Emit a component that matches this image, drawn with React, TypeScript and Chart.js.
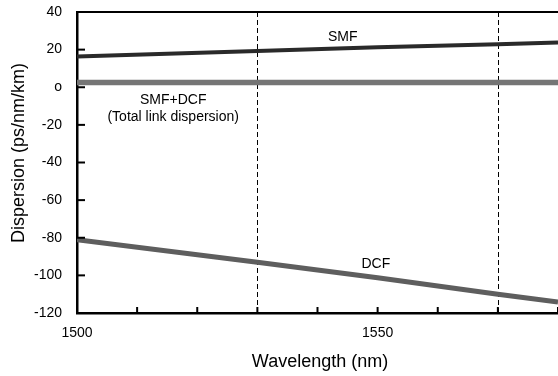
import React, { useEffect, useRef } from "react";
import { Chart, registerables } from "chart.js";

Chart.register(...registerables);

// ---- data ----
const wavelengths = [1500, 1530, 1550, 1570, 1580];
const smfDispersion = [16.3, 19.3, 21.2, 22.9, 23.8];
const totalDispersion = [2.5, 2.5, 2.5, 2.5, 2.5];
const dcfDispersion = [-81, -93, -101.3, -110, -114.2];

const xLabeledTicks = [1500, 1550];
const markerWavelengths = [1530, 1570];
const yTickValues = [40, 20, 0, -20, -40, -60, -80, -100, -120];
const yTickLabels = ["40", "20", "o", "-20", "-40", "-60", "-80", "-100", "-120"];

const xTitle = "Wavelength (nm)";
const yTitle = "Dispersion (ps/nm/km)";

const labelTexts = ["SMF", "SMF+DCF", "(Total link dispersion)", "DCF"];
const labelAnchors = [
  [1544.2, 26.7],
  [1516, -6.8],
  [1516, -15.8],
  [1549.7, -93.9],
];

const FONT = "'Liberation Sans', Arial, Helvetica, sans-serif";

const overlayPlugin = {
  id: "overlay",
  beforeDatasetsDraw(chart: any) {
    const { ctx, chartArea, scales } = chart;
    ctx.save();
    ctx.strokeStyle = "#000";
    ctx.lineWidth = 1;
    ctx.setLineDash([5, 3]);
    markerWavelengths.forEach((w) => {
      const x = Math.round(scales.x.getPixelForValue(w)) + 0.5;
      ctx.beginPath();
      ctx.moveTo(x, chartArea.top);
      ctx.lineTo(x, chartArea.bottom);
      ctx.stroke();
    });
    ctx.restore();
  },
  afterDatasetsDraw(chart: any) {
    const { ctx, chartArea, scales } = chart;
    ctx.save();
    // top frame line
    ctx.strokeStyle = "#000";
    ctx.lineWidth = 2;
    ctx.beginPath();
    ctx.moveTo(chartArea.left, chartArea.top);
    ctx.lineTo(chartArea.right, chartArea.top);
    ctx.stroke();
    // inward tick marks, y
    scales.y.ticks.forEach((t: any) => {
      const y = scales.y.getPixelForValue(t.value);
      ctx.beginPath();
      ctx.moveTo(chartArea.left, y);
      ctx.lineTo(chartArea.left + 8, y);
      ctx.stroke();
    });
    // inward tick marks, x
    scales.x.ticks.forEach((t: any) => {
      const x = scales.x.getPixelForValue(t.value);
      ctx.beginPath();
      ctx.moveTo(x, chartArea.bottom);
      ctx.lineTo(x, chartArea.bottom - 6);
      ctx.stroke();
    });
    // annotations
    ctx.fillStyle = "#000";
    ctx.font = `14px ${FONT}`;
    ctx.textAlign = "center";
    ctx.textBaseline = "middle";
    labelTexts.forEach((txt, i) => {
      const [wx, wy] = labelAnchors[i];
      ctx.fillText(txt, scales.x.getPixelForValue(wx), scales.y.getPixelForValue(wy));
    });
    // axis titles
    ctx.font = `18px ${FONT}`;
    ctx.fillText(xTitle, 320, 362);
    ctx.translate(19, 153);
    ctx.rotate(-Math.PI / 2);
    ctx.fillText(yTitle, 0, 0);
    ctx.restore();
  },
};

export default function App() {
  const ref = useRef<HTMLCanvasElement | null>(null);

  useEffect(() => {
    document.body.style.margin = "0";
    const canvas = ref.current;
    if (!canvas) return;
    const toPoints = (vals: number[]) => wavelengths.map((w, i) => ({ x: w, y: vals[i] }));
    const chart = new Chart(canvas, {
      type: "line",
      data: {
        datasets: [
          {
            label: "SMF+DCF",
            data: toPoints(totalDispersion),
            borderColor: "#757575",
            borderWidth: 5.5,
            pointRadius: 0,
            tension: 0,
          },
          {
            label: "SMF",
            data: toPoints(smfDispersion),
            borderColor: "#2a2a2a",
            borderWidth: 4,
            pointRadius: 0,
            tension: 0,
          },
          {
            label: "DCF",
            data: toPoints(dcfDispersion),
            borderColor: "#5e5e5e",
            borderWidth: 5,
            pointRadius: 0,
            tension: 0,
          },
        ],
      },
      options: {
        responsive: false,
        animation: false,
        devicePixelRatio: 1,
        layout: { padding: { top: 12, right: 0, left: 0, bottom: 0 } },
        plugins: { legend: { display: false }, tooltip: { enabled: false } },
        scales: {
          x: {
            type: "linear",
            min: 1500,
            max: 1580,
            grid: { display: false, drawTicks: false },
            border: { display: true, color: "#000", width: 2.5 },
            ticks: {
              stepSize: 10,
              autoSkip: false,
              maxRotation: 0,
              padding: 12,
              color: "#000",
              font: { family: FONT, size: 14 },
              callback: (v: any) => (xLabeledTicks.includes(Number(v)) ? String(v) : ""),
            },
            afterFit: (scale: any) => {
              scale.height = 63;
              scale.paddingRight = 0;
              scale.paddingLeft = 0;
            },
          },
          y: {
            type: "linear",
            min: -120,
            max: 40,
            grid: { display: false, drawTicks: false },
            border: { display: true, color: "#000", width: 2.5 },
            afterBuildTicks: (scale: any) => {
              scale.ticks = yTickValues.map((v) => ({ value: v }));
            },
            ticks: {
              autoSkip: false,
              padding: 15,
              color: "#000",
              font: { family: FONT, size: 14 },
              callback: (v: any) => {
                const idx = yTickValues.indexOf(Number(v));
                return idx >= 0 ? yTickLabels[idx] : "";
              },
            },
            afterFit: (scale: any) => {
              scale.width = 77;
              scale.paddingTop = 0;
              scale.paddingBottom = 0;
            },
          },
        },
      },
      plugins: [overlayPlugin],
    });
    return () => chart.destroy();
  }, []);

  return <canvas ref={ref} width={558} height={376} style={{ display: "block" }} />;
}
